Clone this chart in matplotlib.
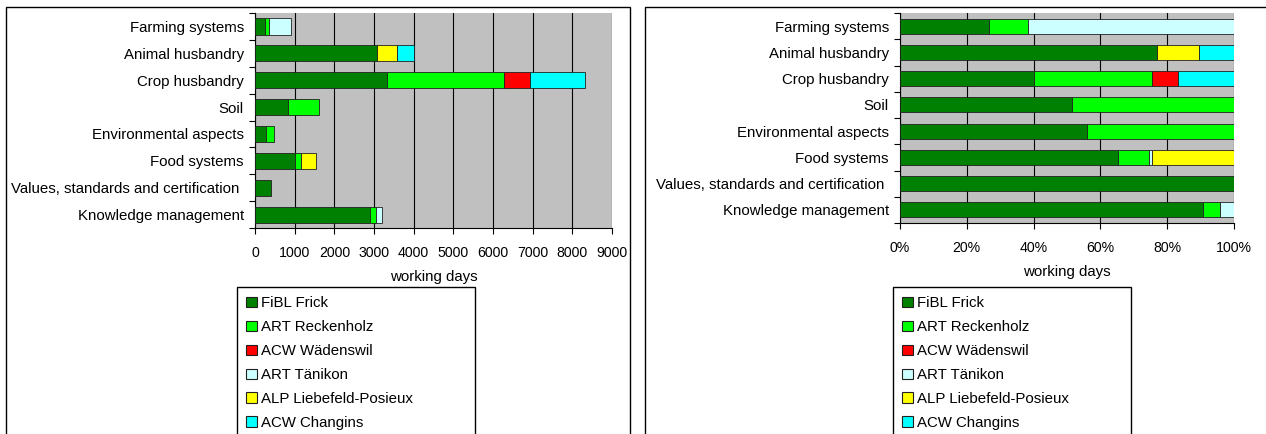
import matplotlib
matplotlib.use("Agg")
import matplotlib.pyplot as plt
import matplotlib.patches as mpatches
import numpy as np

# --- Данные ---
categories = ["Farming systems", "Animal husbandry", "Crop husbandry", "Soil",
              "Environmental aspects", "Food systems",
              "Values, standards and certification ", "Knowledge management"]

fibl_frick = [240, 3070, 3330, 830, 270, 1005, 395, 2900]
art_reckenholz = [105, 0, 2940, 780, 213, 146, 0, 160]
acw_waedenswil = [0, 0, 660, 0, 0, 0, 0, 0]
art_taenikon = [555, 0, 0, 0, 0, 12, 0, 135]
alp_liebefeld = [0, 512, 0, 0, 0, 378, 0, 0]
acw_changins = [0, 415, 1390, 0, 0, 0, 0, 0]

series_names = ["FiBL Frick", "ART Reckenholz", "ACW Wädenswil", "ART Tänikon",
                "ALP Liebefeld-Posieux", "ACW Changins"]
series_colors = ["#008000", "#00FF00", "#FF0000", "#CCFFFF", "#FFFF00", "#00FFFF"]

x_ticks_abs = [0, 1000, 2000, 3000, 4000, 5000, 6000, 7000, 8000, 9000]
x_ticks_pct = [0, 20, 40, 60, 80, 100]

plt.rcParams['font.family'] = ['Liberation Sans', 'DejaVu Sans']
plt.rcParams['font.size'] = 10.8

W, H = 1266, 434


def ax_rect(x0, x1, ytop, ybot):
    return [x0 / W, (H - ybot) / H, (x1 - x0) / W, (ybot - ytop) / H]


def draw_stack(ax, data, height):
    y = np.arange(len(categories))
    left = np.zeros(len(categories))
    for vals, color in zip(data, series_colors):
        vals = np.asarray(vals, dtype=float)
        m = vals > 0
        ax.barh(y[m], vals[m], left=left[m], height=height, color=color,
                edgecolor='#202020', linewidth=0.6, zorder=3)
        left += vals


def style_axis(ax):
    n = len(categories)
    ax.set_facecolor('#C0C0C0')
    ax.set_ylim(n - 0.5, -0.5)
    ax.set_yticks(np.arange(n))
    ax.set_yticklabels(categories)
    ax.set_yticks(np.arange(n + 1) - 0.5, minor=True)
    ax.tick_params(axis='y', which='major', length=0, pad=8)
    ax.tick_params(axis='y', which='minor', length=4, width=0.8, direction='out')
    ax.tick_params(axis='x', which='major', length=4, width=0.8, direction='out',
                   pad=9, labelsize=10.2)
    for s in ['top', 'right']:
        ax.spines[s].set_visible(False)
    for s in ['left', 'bottom']:
        ax.spines[s].set_linewidth(0.8)
    ax.grid(True, axis='x', color='black', linewidth=0.8, zorder=1)
    ax.set_axisbelow(True)
    ax.set_xlabel('working days', labelpad=7)


fig = plt.figure(figsize=(W / 100, H / 100), dpi=100)

data = [fibl_frick, art_reckenholz, acw_waedenswil, art_taenikon, alp_liebefeld, acw_changins]

# Левый график: абсолютные значения
ax1 = fig.add_axes(ax_rect(255, 612, 13, 228))
draw_stack(ax1, data, 0.6)
ax1.set_xlim(0, 9000)
ax1.set_xticks(x_ticks_abs)
ax1.set_xticklabels([str(t) for t in x_ticks_abs])
style_axis(ax1)

# Правый график: доли в процентах
totals = np.sum(np.array(data, dtype=float), axis=0)
shares = [list(np.array(d, dtype=float) / totals * 100) for d in data]
ax2 = fig.add_axes(ax_rect(900, 1234, 13, 223))
draw_stack(ax2, shares, 0.58)
ax2.set_xlim(0, 100)
ax2.set_xticks(x_ticks_pct)
ax2.set_xticklabels([f"{t}%" for t in x_ticks_pct])
style_axis(ax2)

# Легенды
handles = [mpatches.Patch(facecolor=c, edgecolor='#202020', linewidth=0.8) for c in series_colors]
for x0 in (237, 893):
    fig.legend(handles, series_names, loc='upper left',
               bbox_to_anchor=(x0 / W, 0, 238 / W, (H - 287) / H), mode='expand',
               frameon=True, fancybox=False, framealpha=1, edgecolor='black',
               handlelength=0.7, handleheight=0.7, handletextpad=0.3,
               labelspacing=0.66, borderpad=0.62, borderaxespad=0)

# Рамки областей диаграмм
fig.patches.append(mpatches.Rectangle((6 / W, -0.1), 624 / W, (H - 7) / H + 0.1,
                                      transform=fig.transFigure, fill=False,
                                      edgecolor='black', linewidth=1.0))
fig.patches.append(mpatches.Rectangle((645 / W, -0.1), 700 / W, (H - 7) / H + 0.1,
                                      transform=fig.transFigure, fill=False,
                                      edgecolor='black', linewidth=1.0))

fig.savefig('out.png', dpi=100, facecolor='white')
